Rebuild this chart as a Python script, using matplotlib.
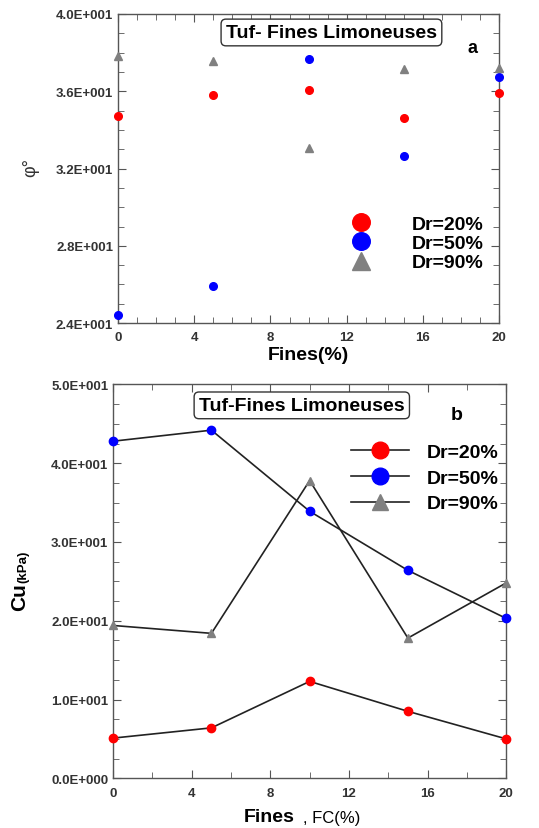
import matplotlib
matplotlib.use('Agg')
import matplotlib.pyplot as plt
import numpy as np
from matplotlib.ticker import FuncFormatter, MultipleLocator

plt.rcParams['font.family'] = ['Liberation Sans', 'DejaVu Sans']

fines = [0, 5, 10, 15, 20]
labels = ['Dr=20%', 'Dr=50%', 'Dr=90%']

# friction angle (deg)
phi_20 = [34.7, 35.8, 36.05, 34.6, 35.9]
phi_50 = [24.4, 25.9, 37.65, 32.65, 36.75]
phi_90 = [37.8, 37.55, 33.05, 37.15, 37.2]

# undrained cohesion Cu (kPa)
cu_20 = [5.1, 6.4, 12.3, 8.5, 5.0]
cu_50 = [42.8, 44.2, 33.9, 26.4, 20.3]
cu_90 = [19.4, 18.4, 37.8, 17.8, 24.8]

colors = ['#ff0000', '#0000ff', '#808080']
markers = ['o', 'o', '^']


def sci(v, pos):
    if v == 0:
        return '0.0E+000'
    e = int(np.floor(np.log10(abs(v))))
    m = v / 10 ** e
    return '{m:.1f}E+{e:03d}'.format(m=m, e=e)


def style(ax, xminor, ymajor, yminor):
    ax.xaxis.set_major_locator(MultipleLocator(4))
    ax.xaxis.set_minor_locator(MultipleLocator(xminor))
    ax.yaxis.set_major_locator(MultipleLocator(ymajor))
    ax.yaxis.set_minor_locator(MultipleLocator(yminor))
    ax.yaxis.set_major_formatter(FuncFormatter(sci))
    ax.tick_params(which='both', direction='in', top=True, right=True,
                   color='#555555', labelsize=9.5, labelcolor='#333333')
    ax.tick_params(which='major', length=6)
    ax.tick_params(which='minor', length=4)
    ax.tick_params(axis='x', pad=6)
    for t in ax.get_xticklabels() + ax.get_yticklabels():
        t.set_fontweight('bold')
    for s in ax.spines.values():
        s.set_color('#555555')
        s.set_linewidth(1.0)


fig = plt.figure(figsize=(5.39, 8.29), dpi=100)

# ---- a ----
ax1 = fig.add_axes([0.219, 0.609, 0.707, 0.373])
for ys, c, m, l in zip([phi_20, phi_50, phi_90], colors, markers, labels):
    ax1.plot(fines, ys, linestyle='none', marker=m, color=c, markersize=5.5,
             label=l, clip_on=False, zorder=3)
ax1.set_xlim(0, 20)
ax1.set_ylim(24, 40)
style(ax1, 1, 4, 1)
ax1.text(0.56, 0.94, 'Tuf- Fines Limoneuses', transform=ax1.transAxes,
         ha='center', va='center', fontsize=14, fontweight='bold',
         bbox=dict(boxstyle='round,pad=0.25', fc='white', ec='#333333', lw=1))
ax1.text(0.93, 0.89, 'a', transform=ax1.transAxes, ha='center', va='center',
         fontsize=13, fontweight='bold')
ax1.text(-0.23, 0.505, 'φ°', transform=ax1.transAxes, rotation=90,
         ha='center', va='center', fontsize=13, color='#333333')
ax1.set_xlabel('Fines(%)', fontsize=14, fontweight='bold', labelpad=2)
leg1 = ax1.legend(loc='upper left', bbox_to_anchor=(0.54, 0.405), frameon=False,
                  markerscale=2.3, handletextpad=1.6,
                  labelspacing=0.08, prop={'weight': 'bold', 'size': 14})

# ---- b ----
ax2 = fig.add_axes([0.210, 0.060, 0.729, 0.475])
for ys, c, m, l in zip([cu_20, cu_50, cu_90], colors, markers, labels):
    ax2.plot(fines, ys, linestyle='-', color='#222222', linewidth=1.2,
             marker=m, markerfacecolor=c, markeredgecolor=c, markersize=6,
             label=l, clip_on=False, zorder=3)
ax2.set_xlim(0, 20)
ax2.set_ylim(0, 50)
style(ax2, 2, 10, 2.5)
ax2.text(0.48, 0.947, 'Tuf-Fines Limoneuses', transform=ax2.transAxes,
         ha='center', va='center', fontsize=14, fontweight='bold',
         bbox=dict(boxstyle='round,pad=0.25', fc='white', ec='#333333', lw=1))
ax2.text(0.875, 0.924, 'b', transform=ax2.transAxes, ha='center', va='center',
         fontsize=14, fontweight='bold')
ax2.text(-0.214, 0.462, 'Cu', transform=ax2.transAxes, rotation=90,
         ha='right', va='center', fontsize=15, fontweight='bold')
ax2.text(-0.214, 0.54, '(kPa)', transform=ax2.transAxes, rotation=90,
         ha='right', va='center', fontsize=9.5, fontweight='bold')
fig.text(269 / 539, 1 - 818 / 829, 'Fines', ha='center', va='center',
         fontsize=14, fontweight='bold')
fig.text(332 / 539, 1 - 819 / 829, ', FC(%)', ha='center', va='center',
         fontsize=12)
leg2 = ax2.legend(loc='upper left', bbox_to_anchor=(0.56, 0.895), frameon=False,
                  markerscale=2.0, handlelength=3.0, handletextpad=0.9,
                  labelspacing=0.42, prop={'weight': 'bold', 'size': 14})

plt.savefig('out.png', dpi=100)
